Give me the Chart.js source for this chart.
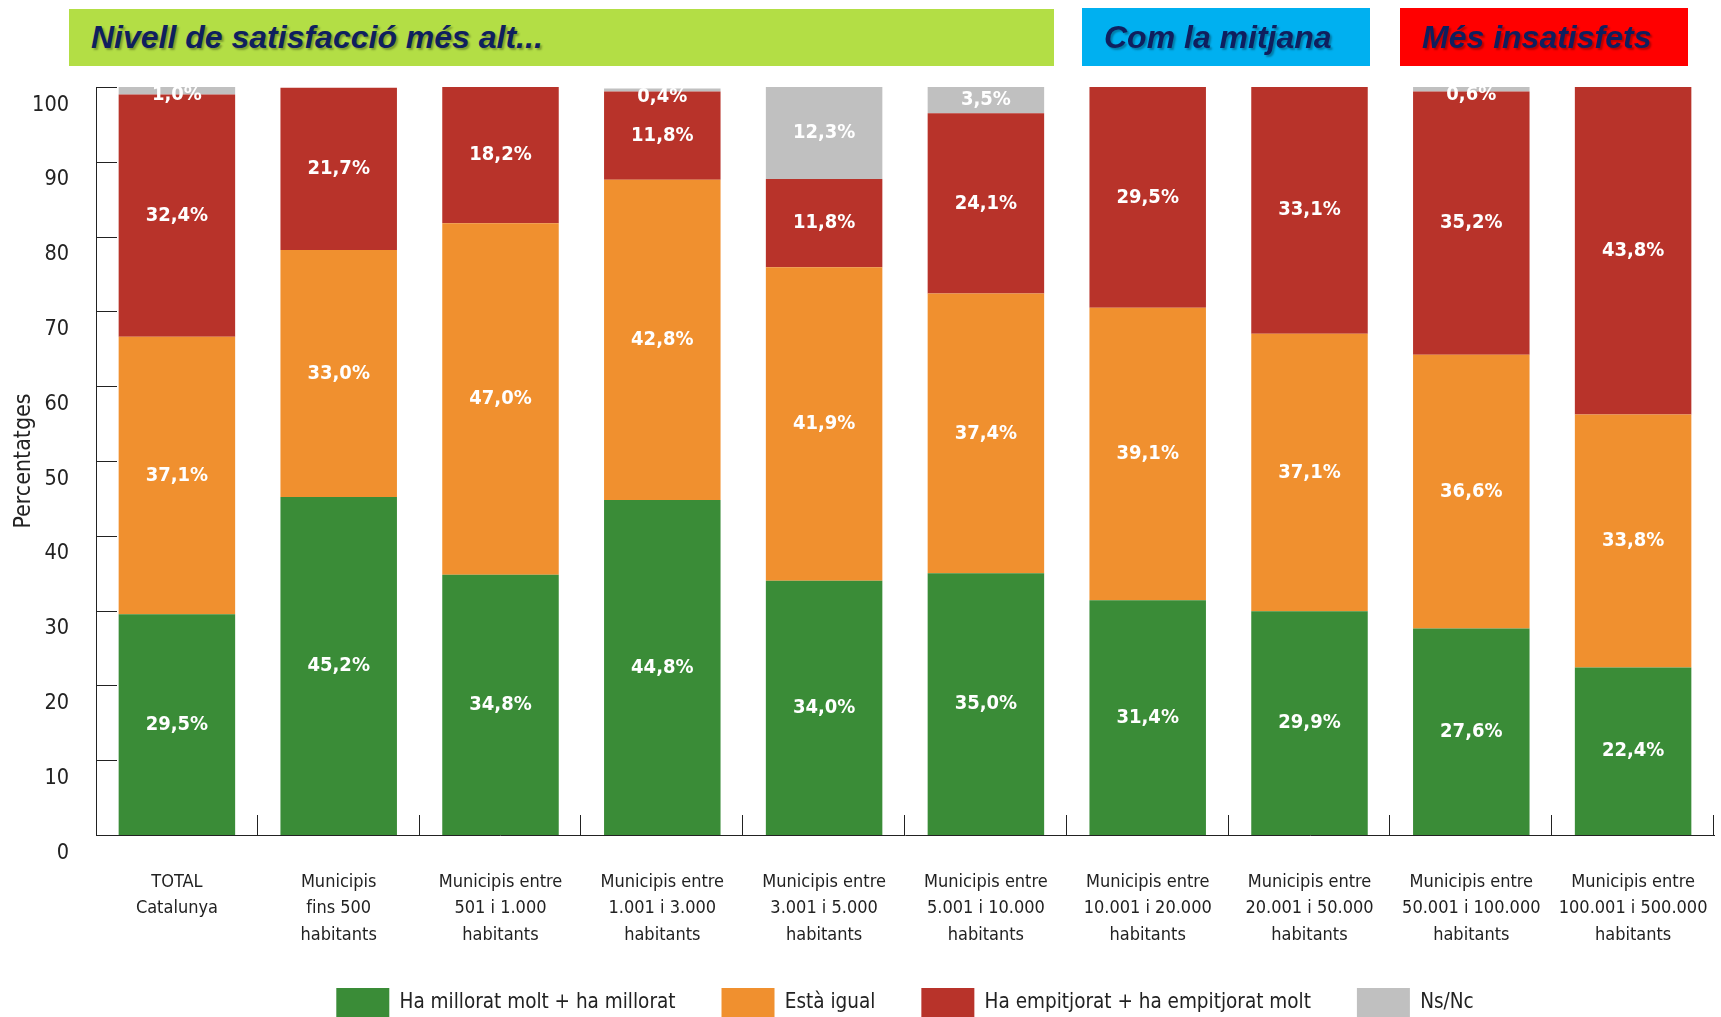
<!DOCTYPE html>
<html lang="ca">
<head>
<meta charset="utf-8">
<title>Nivell de satisfacció per mida de municipi</title>
<script src="https://cdn.jsdelivr.net/npm/chart.js@4.4.1/dist/chart.umd.min.js"></script>
<style>
  html, body { margin: 0; padding: 0; background: #fff; overflow: hidden; }
  body { width: 1721px; height: 1017px; position: relative; }
  #chart { position: absolute; left: 0; top: 0; }
  .banner {
    position: absolute; display: flex; align-items: center; box-sizing: border-box;
    padding-left: 22px; font-family: 'Liberation Sans', Arial, sans-serif;
    font-weight: bold; font-style: italic; font-size: 32px; color: #0f1f5e;
    text-shadow: 2px 2px 2px rgba(0, 0, 0, 0.3);
  }
  .green { left: 69px; top: 9px; width: 985px; height: 57px; background: #b3de45; }
  .blue { left: 1082px; top: 8px; width: 288px; height: 58px; background: #00b0f0; }
  .red { left: 1400px; top: 8px; width: 288px; height: 58px; background: #ff0000; }
</style>
</head>
<body>
<canvas id="chart" width="1721" height="1028"></canvas>
<div class="banner green">Nivell de satisfacció més alt...</div>
<div class="banner blue">Com la mitjana</div>
<div class="banner red">Més insatisfets</div>
<script>
const categories = [
  ['TOTAL', 'Catalunya'],
  ['Municipis', 'fins 500', 'habitants'],
  ['Municipis entre', '501 i 1.000', 'habitants'],
  ['Municipis entre', '1.001 i 3.000', 'habitants'],
  ['Municipis entre', '3.001 i 5.000', 'habitants'],
  ['Municipis entre', '5.001 i 10.000', 'habitants'],
  ['Municipis entre', '10.001 i 20.000', 'habitants'],
  ['Municipis entre', '20.001 i 50.000', 'habitants'],
  ['Municipis entre', '50.001 i 100.000', 'habitants'],
  ['Municipis entre', '100.001 i 500.000', 'habitants']
];
const millorat = [29.5, 45.2, 34.8, 44.8, 34.0, 35.0, 31.4, 29.9, 27.6, 22.4];
const igual = [37.1, 33.0, 47.0, 42.8, 41.9, 37.4, 39.1, 37.1, 36.6, 33.8];
const empitjorat = [32.4, 21.7, 18.2, 11.8, 11.8, 24.1, 29.5, 33.1, 35.2, 43.8];
const nsnc = [1.0, 0, 0, 0.4, 12.3, 3.5, 0, 0, 0.6, 0];
const yTicks = [0, 10, 20, 30, 40, 50, 60, 70, 80, 90, 100];

const NARROW = "'DejaVu Sans Condensed', 'Liberation Sans', sans-serif";

// white percentage labels in the middle of each segment
const segmentLabels = {
  id: 'segmentLabels',
  afterDatasetsDraw(chart) {
    const ctx = chart.ctx;
    ctx.save();
    ctx.fillStyle = '#fff';
    ctx.font = 'bold 20px ' + NARROW;
    ctx.textAlign = 'center';
    ctx.textBaseline = 'middle';
    chart.data.datasets.forEach((ds, di) => {
      chart.getDatasetMeta(di).data.forEach((bar, i) => {
        const v = ds.data[i];
        if (!v) return;
        let y = (bar.y + bar.base) / 2;
        if (v < 2) y = bar.y + 8;
        ctx.fillText(v.toFixed(1).replace('.', ',') + '%', bar.x, y);
      });
    });
    ctx.restore();
  }
};

// short tick marks drawn inside the plot, like the original
const innerTicks = {
  id: 'innerTicks',
  afterDraw(chart) {
    const { ctx, scales: { x, y } } = chart;
    ctx.save();
    ctx.strokeStyle = '#222';
    ctx.lineWidth = 1;
    ctx.beginPath();
    y.ticks.forEach(t => {
      const py = Math.round(y.getPixelForValue(t.value)) + 0.5;
      ctx.moveTo(y.right, py);
      ctx.lineTo(y.right + 21, py);
    });
    const half = (x.getPixelForTick(1) - x.getPixelForTick(0)) / 2;
    x.ticks.forEach((t, i) => {
      const px = Math.round(x.getPixelForTick(i) + half) - 0.5;
      ctx.moveTo(px, x.top);
      ctx.lineTo(px, x.top - 20);
    });
    ctx.stroke();
    ctx.restore();
  }
};

new Chart(document.getElementById('chart'), {
  type: 'bar',
  data: {
    labels: categories,
    datasets: [
      { label: 'Ha millorat molt + ha millorat', data: millorat, backgroundColor: '#3a8c37' },
      { label: 'Està igual', data: igual, backgroundColor: '#f0902f' },
      { label: 'Ha empitjorat + ha empitjorat molt', data: empitjorat, backgroundColor: '#b8332a' },
      { label: 'Ns/Nc', data: nsnc, backgroundColor: '#c0c0c0' }
    ]
  },
  options: {
    responsive: false,
    animation: false,
    events: [],
    layout: { padding: { top: 87, right: 7, left: 0, bottom: 0 } },
    datasets: { bar: { barPercentage: 0.72, categoryPercentage: 1, borderWidth: 0 } },
    scales: {
      x: {
        stacked: true,
        grid: { display: false, drawTicks: false },
        border: { display: true, color: '#222', width: 1 },
        ticks: { padding: 34, color: '#222', font: { family: NARROW, size: 18, lineHeight: 1.47 }, maxRotation: 0, autoSkip: false },
        afterFit(s) { s.height = 107; s.paddingLeft = 0; s.paddingRight = 0; }
      },
      y: {
        stacked: true,
        min: 0,
        max: 100,
        afterBuildTicks(s) { s.ticks = yTicks.map(v => ({ value: v })); },
        grid: { display: false, drawTicks: false },
        border: { display: true, color: '#222', width: 1 },
        ticks: { padding: 27, labelOffset: 18, color: '#222', font: { family: NARROW, size: 21.5 } },
        title: { display: true, text: 'Percentatges', color: '#222', padding: { top: 10, bottom: 0 }, font: { family: NARROW, size: 23 } },
        afterFit(s) { s.width = 96; }
      }
    },
    plugins: {
      legend: {
        position: 'bottom',
        fullSize: false,
        labels: { boxWidth: 53, boxHeight: 30, padding: 46, color: '#222', font: { family: NARROW, size: 20.5 } }
      },
      tooltip: { enabled: false }
    }
  },
  plugins: [segmentLabels, innerTicks]
});
</script>
</body>
</html>
